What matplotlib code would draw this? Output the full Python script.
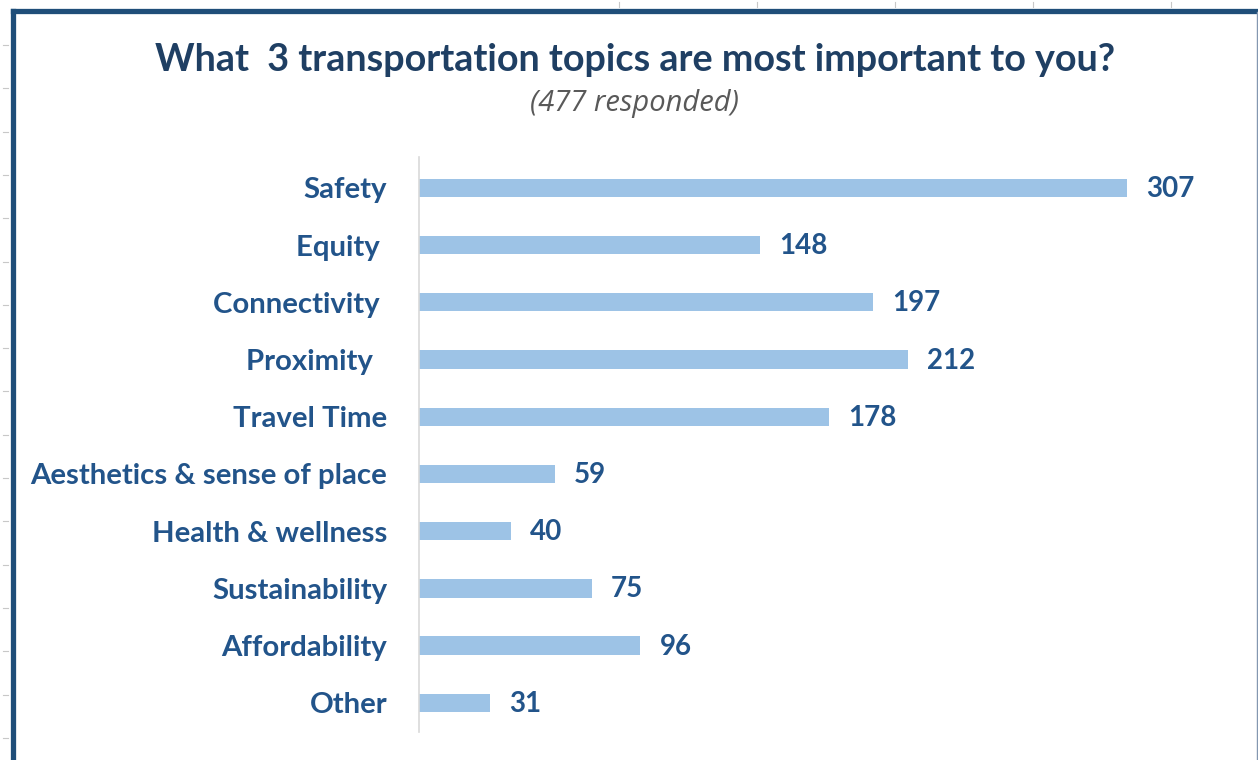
import matplotlib
matplotlib.use("Agg")
import matplotlib.pyplot as plt
from matplotlib.lines import Line2D

categories = ["Safety", "Equity ", "Connectivity ", "Proximity  ", "Travel Time",
              "Aesthetics & sense of place", "Health & wellness", "Sustainability",
              "Affordability", "Other"]
values = [307, 148, 197, 212, 178, 59, 40, 75, 96, 31]
title = "What  3 transportation topics are most important to you?"
subtitle = "(477 responded)"

W, H = 1258, 760
fig = plt.figure(figsize=(W / 100, H / 100), dpi=100)
fig.patch.set_facecolor("white")

dark = "#22548A"
bar_color = "#9DC3E6"

# axes placement in pixels
ax_l, ax_r, ax_t, ax_b = 419, 1200, 157, 732
ax = fig.add_axes([ax_l / W, 1 - ax_b / H, (ax_r - ax_l) / W, (ax_b - ax_t) / H])
ypos = list(range(len(categories)))
ax.barh(ypos, values, height=0.32, color=bar_color, zorder=2)
ax.set_xlim(0, (ax_r - ax_l) / 2.306)
ax.set_ylim(9.51, -0.54)
ax.set_yticks(ypos)
ax.set_yticklabels(categories, fontfamily="Lato", fontweight="bold", fontsize=21.2, color=dark)
ax.tick_params(axis="y", length=0, pad=23)
ax.set_xticks([])
for s in ["top", "right", "bottom"]:
    ax.spines[s].set_visible(False)
ax.spines["left"].set_color("#D9D9D9")
ax.spines["left"].set_linewidth(1.2)
for y, v in zip(ypos, values):
    ax.annotate(str(v), (v, y), xytext=(19, -1), textcoords="offset pixels",
                va="center", ha="left", fontfamily="Lato", fontweight="bold",
                fontsize=20, color=dark)

fig.text(635 / W, 1 - 60 / H, title, ha="center", va="center", fontfamily="Lato",
         fontweight="bold", fontsize=27.2, color="#1F3F63")
fig.text(634 / W, 1 - 103 / H, subtitle, ha="center", va="center", fontfamily="Open Sans",
         style="italic", fontsize=21, color="#595959")

# chart frame
def px_line(x0, y0, x1, y1, **kw):
    fig.add_artist(Line2D([x0 / W, x1 / W], [1 - y0 / H, 1 - y1 / H], transform=fig.transFigure, **kw))

px_line(12.5, 10.5, 12.5, 760, color="#1F4E79", linewidth=3.8, solid_capstyle="projecting")
px_line(12.5, 10.5, 1258, 10.5, color="#1F4E79", linewidth=3.8, solid_capstyle="projecting")
px_line(1256.5, 12, 1256.5, 760, color="#8497B0", linewidth=1.0)

# spreadsheet grid ticks outside the frame
for i in range(17):
    y = 45 + i * 43.3
    px_line(3, y, 8, y, color="#C8C8C8", linewidth=0.8)
for x in [619, 757, 895, 1033, 1171]:
    px_line(x, 2, x, 7, color="#C8C8C8", linewidth=0.8)

fig.savefig("out.png", dpi=100, facecolor="white")
